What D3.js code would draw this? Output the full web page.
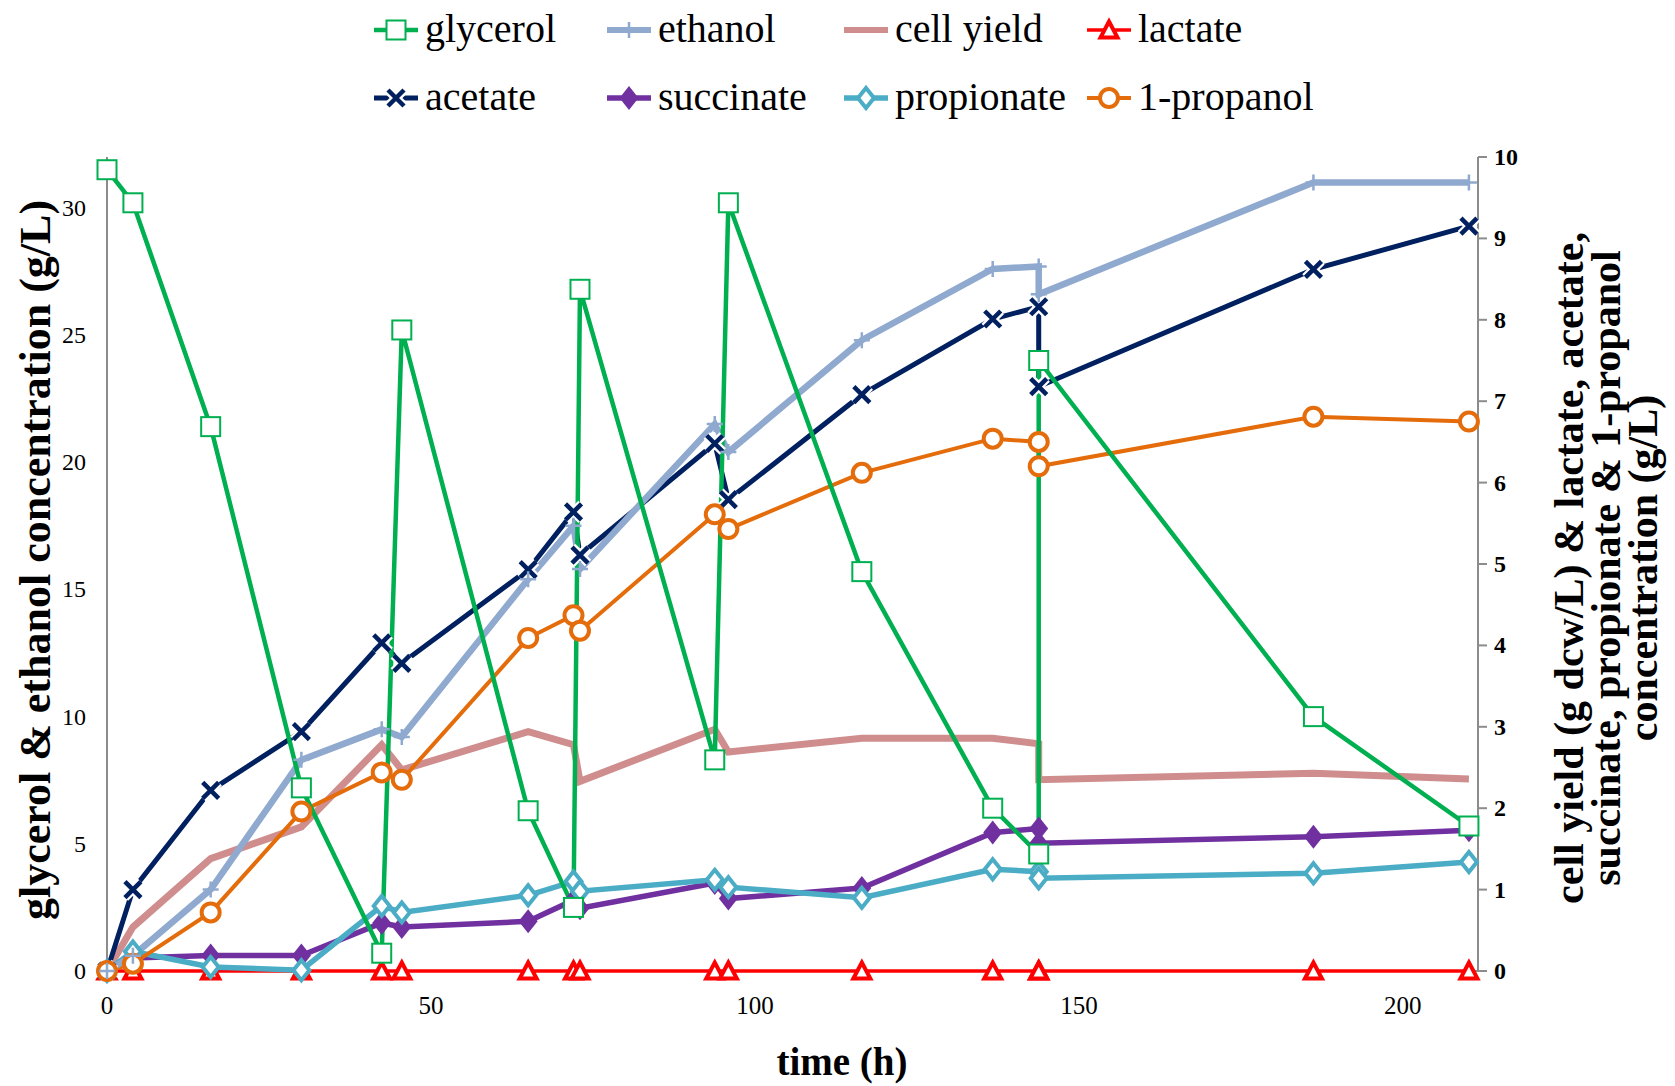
<!DOCTYPE html>
<html>
<head>
<meta charset="utf-8">
<script src="https://cdn.jsdelivr.net/npm/d3@7"></script>
<style>
  body { margin: 0; background: #fff; }
  text { font-family: "Liberation Serif", "Times New Roman", serif; fill: #000; }
</style>
</head>
<body>
<svg id="canvas" width="1675" height="1086"></svg>
<script>
// sampling times (h)
const times = [0, 4, 16, 30, 42.4, 45.5, 65, 72, 73, 93.8, 95.9, 116.5, 136.7, 143.8, 143.8, 186.2, 210.2];

// left axis (g/L)
const glycerol = [31.5, 30.2, 21.4, 7.2, 0.7, 25.2, 6.3, 2.5, 26.8, 8.3, 30.2, 15.7, 6.4, 4.6, 24.0, 10.0, 5.7];
const ethanol = [0, 0.6, 3.2, 8.3, 9.5, 9.2, 15.4, 17.5, 15.8, 21.5, 20.4, 24.8, 27.6, 27.7, 26.6, 31.0, 31.0];

// right axis
const cellYield = [0, 0.54, 1.38, 1.77, 2.78, 2.47, 2.94, 2.78, 2.33, 2.97, 2.69, 2.86, 2.86, 2.79, 2.35, 2.43, 2.36];
const lactate = [0, 0, 0, 0, 0, 0, 0, 0, 0, 0, 0, 0, 0, 0, 0, 0, 0];
const acetate = [0, 1.0, 2.22, 2.94, 4.03, 3.78, 4.93, 5.64, 5.11, 6.48, 5.79, 7.08, 8.01, 8.16, 7.18, 8.62, 9.15];
const succinate = [0, 0.16, 0.19, 0.19, 0.59, 0.54, 0.61, 0.87, 0.77, 1.08, 0.89, 1.02, 1.70, 1.75, 1.57, 1.65, 1.73];
const propionate = [0, 0.24, 0.05, 0.01, 0.80, 0.72, 0.93, 1.10, 0.98, 1.12, 1.03, 0.90, 1.25, 1.22, 1.14, 1.20, 1.34];
const propanol = [0, 0.09, 0.72, 1.96, 2.44, 2.35, 4.09, 4.37, 4.18, 5.61, 5.43, 6.12, 6.54, 6.50, 6.20, 6.81, 6.75];

const xTicks = [0, 50, 100, 150, 200];
const leftTicks = [0, 5, 10, 15, 20, 25, 30];
const rightTicks = [0, 1, 2, 3, 4, 5, 6, 7, 8, 9, 10];

const canvas = d3.select("#canvas");

const xScale = d3.scaleLinear().domain([0, 211.6]).range([107, 1478]);
const yLeft = d3.scaleLinear().domain([0, 32]).range([971, 157]);
const yRight = d3.scaleLinear().domain([0, 10]).range([971, 157]);

// series in drawing order
const series = [
  { name: "cell yield", values: cellYield, axis: "right", color: "#CF8D8D", width: 7, marker: "none" },
  { name: "lactate", values: lactate, axis: "right", color: "#FF0000", width: 3.5, marker: "triangle" },
  { name: "acetate", values: acetate, axis: "right", color: "#002060", width: 5, marker: "x" },
  { name: "succinate", values: succinate, axis: "right", color: "#7030A0", width: 5.5, marker: "diamondFilled" },
  { name: "propionate", values: propionate, axis: "right", color: "#4BACC6", width: 5.5, marker: "diamond" },
  { name: "1-propanol", values: propanol, axis: "right", color: "#E46C0A", width: 4, marker: "circle" },
  { name: "ethanol", values: ethanol, axis: "left", color: "#8FA9CF", width: 6.5, marker: "plus" },
  { name: "glycerol", values: glycerol, axis: "left", color: "#00B050", width: 4.5, marker: "square" },
];

const drawMarker = (g, type, color) => {
  switch (type) {
    case "square":
      g.append("rect").attr("x", -9.5).attr("y", -9.5).attr("width", 19).attr("height", 19)
        .attr("fill", "#fff").attr("stroke", color).attr("stroke-width", 2);
      break;
    case "plus":
      g.append("path").attr("d", "M-8,0H8M0,-8V8")
        .attr("stroke", color).attr("stroke-width", 2.5).attr("fill", "none");
      break;
    case "x":
      // white halo breaks the line around the marker
      g.append("path").attr("d", "M-8,-8L8,8M-8,8L8,-8")
        .attr("stroke", "#fff").attr("stroke-width", 9).attr("fill", "none");
      g.append("path").attr("d", "M-8,-8L8,8M-8,8L8,-8")
        .attr("stroke", color).attr("stroke-width", 4.5).attr("fill", "none");
      break;
    case "diamondFilled":
      g.append("path").attr("d", "M0,-12L9.5,0L0,12L-9.5,0Z").attr("fill", color);
      break;
    case "diamond":
      g.append("path").attr("d", "M0,-10L8,0L0,10L-8,0Z")
        .attr("fill", "#fff").attr("stroke", color).attr("stroke-width", 4);
      break;
    case "triangle":
      g.append("path").attr("d", "M0,-8.5L8.5,7.5L-8.5,7.5Z")
        .attr("fill", "#fff").attr("stroke", color).attr("stroke-width", 4)
        .attr("stroke-linejoin", "miter");
      break;
    case "circle":
      g.append("circle").attr("r", 9)
        .attr("fill", "#fff").attr("stroke", color).attr("stroke-width", 4);
      break;
  }
};

// axes lines
canvas.append("line").attr("x1", 107).attr("x2", 107).attr("y1", 157).attr("y2", 971)
  .attr("stroke", "#8c8c8c").attr("stroke-width", 2);
canvas.append("line").attr("x1", 107).attr("x2", 1478).attr("y1", 971).attr("y2", 971)
  .attr("stroke", "#8c8c8c").attr("stroke-width", 2);
canvas.append("line").attr("x1", 1478).attr("x2", 1478).attr("y1", 157).attr("y2", 971)
  .attr("stroke", "#8c8c8c").attr("stroke-width", 2);

canvas.selectAll(".rtick").data(rightTicks).enter().append("line")
  .attr("class", "rtick")
  .attr("x1", 1478).attr("x2", 1487)
  .attr("y1", (d) => yRight(d)).attr("y2", (d) => yRight(d))
  .attr("stroke", "#8c8c8c").attr("stroke-width", 2);

// tick labels
canvas.selectAll(".ltl").data(leftTicks).enter().append("text")
  .attr("class", "ltl")
  .attr("x", 86).attr("y", (d) => yLeft(d) + 8)
  .attr("text-anchor", "end").attr("font-size", 24)
  .text((d) => d);

canvas.selectAll(".xtl").data(xTicks).enter().append("text")
  .attr("class", "xtl")
  .attr("x", (d) => xScale(d)).attr("y", 1014)
  .attr("text-anchor", "middle").attr("font-size", 25)
  .text((d) => d);

canvas.selectAll(".rtl").data(rightTicks).enter().append("text")
  .attr("class", "rtl")
  .attr("x", 1494).attr("y", (d) => yRight(d) + 8)
  .attr("font-size", 24).attr("font-weight", "bold")
  .text((d) => d);

// series lines
series.forEach((s) => {
  const y = s.axis === "left" ? yLeft : yRight;
  const line = d3.line().x((d, i) => xScale(times[i])).y((d) => y(d));
  canvas.append("path")
    .datum(s.values)
    .attr("d", line)
    .attr("fill", "none")
    .attr("stroke", s.color)
    .attr("stroke-width", s.width)
    .attr("stroke-linejoin", "miter");
});

// markers on top
series.forEach((s) => {
  if (s.marker === "none") return;
  const y = s.axis === "left" ? yLeft : yRight;
  canvas.append("g").selectAll("g").data(s.values).enter().append("g")
    .attr("transform", (d, i) => `translate(${xScale(times[i])}, ${y(d)})`)
    .each(function () {
      drawMarker(d3.select(this), s.marker, s.color);
    });
});

// axis titles
canvas.append("text")
  .attr("transform", "translate(50, 560) rotate(-90)")
  .attr("text-anchor", "middle").attr("font-size", 44).attr("font-weight", "bold")
  .text("glycerol & ethanol concentration (g/L)");

canvas.append("text")
  .attr("x", 842).attr("y", 1075)
  .attr("text-anchor", "middle").attr("font-size", 39).attr("font-weight", "bold")
  .text("time (h)");

const rightTitle = [
  "cell yield (g dcw/L) & lactate, acetate,",
  "succinate, propionate & 1-propanol",
  "concentration (g/L)",
];
rightTitle.forEach((t, i) => {
  canvas.append("text")
    .attr("transform", `translate(${1583 + i * 37}, 568) rotate(-90)`)
    .attr("text-anchor", "middle").attr("font-size", 42).attr("font-weight", "bold")
    .text(t);
});

// legend
const legendOrder = ["glycerol", "ethanol", "cell yield", "lactate", "acetate", "succinate", "propionate", "1-propanol"];
const legendX = [374, 607, 844, 1087];
const legendY = [30, 98];

legendOrder.forEach((name, i) => {
  const s = series.find((d) => d.name === name);
  const x0 = legendX[i % 4];
  const y0 = legendY[Math.floor(i / 4)];
  const item = canvas.append("g").attr("transform", `translate(${x0}, ${y0})`);
  item.append("line").attr("x1", 0).attr("x2", 44).attr("y1", 0).attr("y2", 0)
    .attr("stroke", s.color).attr("stroke-width", Math.min(s.width, 6));
  const m = item.append("g").attr("transform", "translate(22, 0)");
  drawMarker(m, s.marker, s.color);
  item.append("text").attr("x", 51).attr("y", 12)
    .attr("font-size", 40).text(name);
});
</script>
</body>
</html>
